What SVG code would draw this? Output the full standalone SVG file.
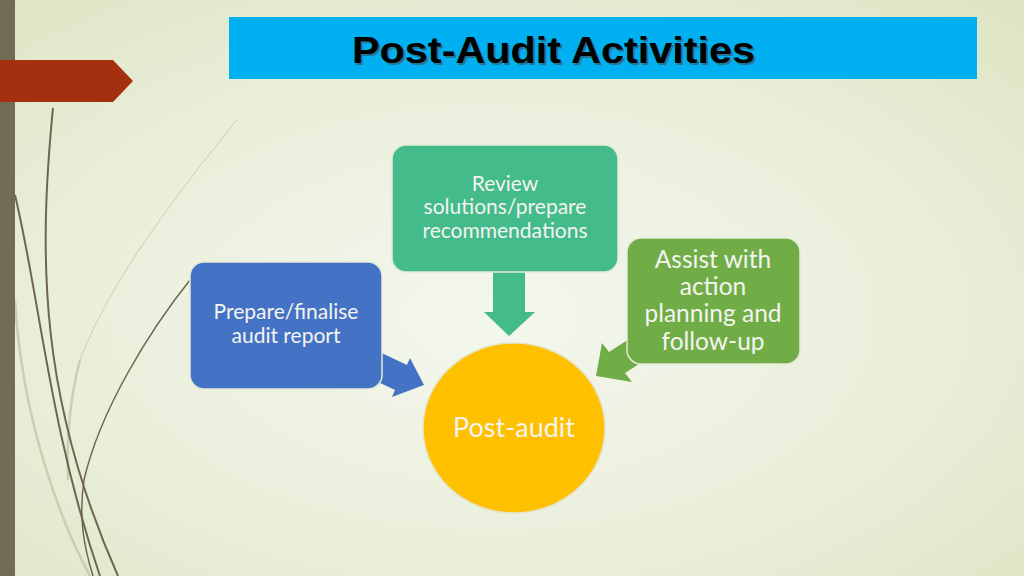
<svg xmlns="http://www.w3.org/2000/svg" width="1024" height="576" viewBox="0 0 1024 576">
  <defs>
    <radialGradient id="bg" cx="0.48" cy="0.55" r="0.75">
      <stop offset="0" stop-color="#f4f7ee"/>
      <stop offset="0.6" stop-color="#e9eed9"/>
      <stop offset="1" stop-color="#dde5c3"/>
    </radialGradient>
    <style>
      .box { stroke: #e4ead6; stroke-width: 1.5; }
      .lbl { font-family: Lato, "Open Sans", sans-serif; fill: #f4f4f0; text-anchor: middle; }
      .curve { fill: none; stroke: #6f6650; }
      .faint { fill: none; stroke: #c9d0b0; }
    </style>
  </defs>
  <rect width="1024" height="576" fill="url(#bg)"/>

  <g id="decor">
    <path class="faint" stroke-width="2.5" d="M15,300 C22,420 60,520 90,576"/>
    <path class="faint" stroke-width="1" d="M237,120 C180,190 110,280 80,360"/>
    <path class="faint" stroke-width="2.5" d="M80,360 C72,390 66,430 68,480"/>
    <path class="curve" stroke-width="2" d="M53,108 C38,260 40,400 118,576"/>
    <path class="curve" stroke-width="2" d="M15,195 C40,300 50,430 100,576"/>
    <path class="curve" stroke-width="1.5" d="M190,280 C150,330 100,410 84,480 C78,520 85,550 93,576"/>
    <rect x="0" y="0" width="15" height="576" fill="#746b55"/>
    <polygon points="0,60 113,60 133,81 113,102 0,102" fill="#a5300f"/>
  </g>

  <g id="title">
    <rect x="229" y="17" width="748" height="62" fill="#00b0f0"/>
    <text x="354" y="65" font-family="Liberation Sans, Arial, sans-serif" font-weight="bold" font-size="37" textLength="403" lengthAdjust="spacingAndGlyphs" fill="#444" opacity="0.55">Post-Audit Activities</text>
    <text x="352" y="63" font-family="Liberation Sans, Arial, sans-serif" font-weight="bold" font-size="37" textLength="403" lengthAdjust="spacingAndGlyphs" fill="#000">Post-Audit Activities</text>
  </g>

  <g id="connectors">
    <polygon points="493,272 525,272 525,312 535,312 509,336 484,312 493,312" fill="#44bb8a"/>
    <polygon points="371,348 407,365 410,358 424,385 392,397 395,390 359,373" fill="#4472c4"/>
    <polygon points="643,330 659,351 625,373 632,382 596,376 602,343 609,352" fill="#70ad47"/>
  </g>

  <g id="node-review">
    <rect class="box" x="392" y="145" width="226" height="127" rx="14" fill="#44bb8a"/>
    <text class="lbl" font-size="21" x="505" y="191">Review</text>
    <text class="lbl" font-size="21" x="505" y="214">solutions/prepare</text>
    <text class="lbl" font-size="21" x="505" y="238">recommendations</text>
  </g>

  <g id="node-prepare">
    <rect class="box" x="190" y="262" width="192" height="127" rx="14" fill="#4472c4"/>
    <text class="lbl" font-size="21" x="286" y="319">Prepare/finalise</text>
    <text class="lbl" font-size="21" x="286" y="343">audit report</text>
  </g>

  <g id="node-assist">
    <rect class="box" x="627" y="238" width="173" height="126" rx="14" fill="#70ad47"/>
    <text class="lbl" font-size="24.5" x="713" y="268">Assist with</text>
    <text class="lbl" font-size="24.5" x="713" y="295">action</text>
    <text class="lbl" font-size="24.5" x="713" y="322">planning and</text>
    <text class="lbl" font-size="24.5" x="713" y="350">follow-up</text>
  </g>

  <g id="node-postaudit">
    <ellipse cx="514" cy="428" rx="91" ry="85" fill="#ffc000" stroke="#e6e2c8" stroke-width="1.5"/>
    <text class="lbl" font-size="27" x="514" y="437">Post-audit</text>
  </g>
</svg>
